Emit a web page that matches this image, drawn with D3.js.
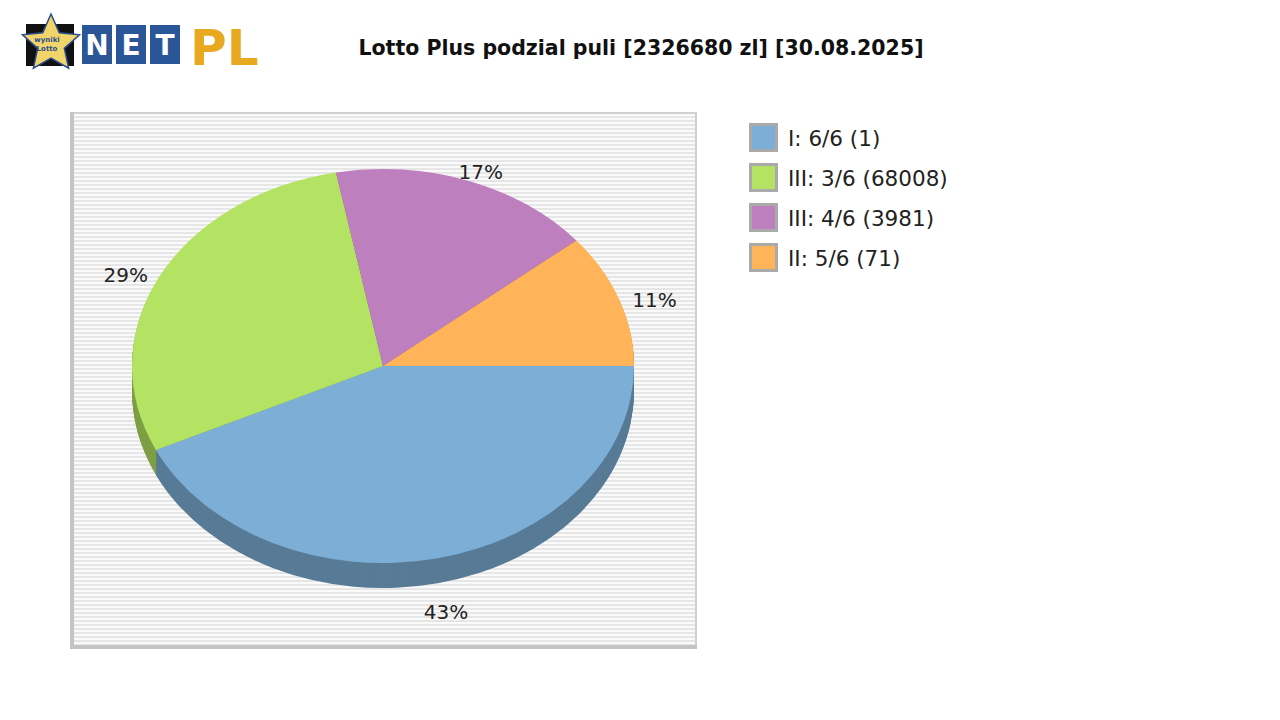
<!DOCTYPE html>
<html><head><meta charset="utf-8">
<script src="https://cdn.jsdelivr.net/npm/d3@7"></script>
<style>body{margin:0;background:#fff}</style></head>
<body><svg id="c" width="1280" height="720"></svg>
<script>
const categories = ["I: 6/6 (1)", "III: 3/6 (68008)", "III: 4/6 (3981)", "II: 5/6 (71)"];
const values = [43, 29, 17, 11];
const labels = ["43%", "29%", "17%", "11%"];
const colors = ["#7daed5", "#b4e262", "#bd7fbd", "#ffb45a"];
const sideColors = ["#587b96", "#7f9f45", "#855985", "#b37f40"];

(function(){
const svg = d3.select("#c");
const defs = svg.append("defs");
const pat = defs.append("pattern").attr("id","st").attr("width",4).attr("height",4).attr("patternUnits","userSpaceOnUse");
pat.append("rect").attr("width",4).attr("height",4).attr("fill","#fafafa");
pat.append("rect").attr("y",0).attr("width",4).attr("height",2).attr("fill","#e6e6e6");

const lg = svg.append("g");
const star = d3.range(10).map(i=>{const a=-Math.PI/2+i*Math.PI/5, r=i%2?14:30; return [51+r*Math.cos(a), 44+r*Math.sin(a)];});
lg.append("rect").attr("x",26).attr("y",24).attr("width",48).attr("height",42).attr("fill","#111");
lg.append("polygon").attr("points",star.map(p=>p.join(",")).join(" ")).attr("fill","#f2d56a").attr("stroke","#2c4e8f").attr("stroke-width",1.5);
lg.append("text").attr("x",47).attr("y",42).attr("text-anchor","middle").attr("font-size",7).attr("font-family","DejaVu Sans").attr("fill","#2c4e8f").attr("font-weight","bold").text("wyniki");
lg.append("text").attr("x",47).attr("y",51).attr("text-anchor","middle").attr("font-size",7).attr("font-family","DejaVu Sans").attr("fill","#2c4e8f").attr("font-weight","bold").text("Lotto");
["N","E","T"].forEach((t,i)=>{
  lg.append("rect").attr("x",82+i*34).attr("y",25).attr("width",30).attr("height",39).attr("fill","#2a5597");
  lg.append("text").attr("x",97+i*34).attr("y",55).attr("text-anchor","middle").attr("font-size",28).attr("font-weight","bold").attr("font-family","DejaVu Sans").attr("fill","#fff").text(t);
});
lg.append("text").attr("x",190).attr("y",65).attr("font-size",50).attr("font-weight","bold").attr("font-family","DejaVu Sans").attr("fill","#e8a920").text("PL");

svg.append("text").attr("x",641).attr("y",55).attr("text-anchor","middle").attr("font-family","DejaVu Sans").attr("font-weight","bold").attr("font-size",20.5).attr("fill","#111").text("Lotto Plus podzial puli [2326680 zl] [30.08.2025]");

svg.append("rect").attr("x",70).attr("y",112).attr("width",627).attr("height",537).attr("fill","url(#st)");
svg.append("rect").attr("x",70).attr("y",112).attr("width",627).attr("height",2).attr("fill","#d0d0d0");
svg.append("rect").attr("x",695).attr("y",112).attr("width",2).attr("height",537).attr("fill","#d0d0d0");
svg.append("rect").attr("x",70).attr("y",112).attr("width",4).attr("height",537).attr("fill","#c4c4c4");
svg.append("rect").attr("x",70).attr("y",645).attr("width",627).attr("height",4).attr("fill","#c4c4c4");

const cx=383, cy=366, rx=251, ry=197, depth=25;
const pie = d3.pie().sort(null).startAngle(Math.PI/2).endAngle(Math.PI/2+2*Math.PI).value(d=>d);
const arcs = pie(values);
const arc = d3.arc().innerRadius(0).outerRadius(rx);
const sc = ry/rx;
for(let d=depth; d>0; d--){
  const g = svg.append("g").attr("transform",`translate(${cx},${cy+d}) scale(1,${sc})`);
  g.selectAll("path").data(arcs).join("path").attr("d",arc).attr("fill",(a,i)=>sideColors[i]);
}
const topG = svg.append("g").attr("transform",`translate(${cx},${cy}) scale(1,${sc})`);
topG.selectAll("path").data(arcs).join("path").attr("d",arc).attr("fill",(a,i)=>colors[i]);

arcs.forEach((a,i)=>{
  const m=(a.startAngle+a.endAngle)/2;
  let x=cx+rx*1.15*Math.sin(m), y=cy-ry*1.08*Math.cos(m);
  if(i===0) y+=depth+7;
  svg.append("text").attr("x",x).attr("y",y+13).attr("text-anchor","middle").attr("font-family","DejaVu Sans").attr("font-size",20).attr("fill","#222").text(labels[i]);
});

categories.forEach((c,i)=>{
  const y=123+i*40;
  svg.append("rect").attr("x",749).attr("y",y).attr("width",29).attr("height",29).attr("fill","#aaa");
  svg.append("rect").attr("x",752).attr("y",y+3).attr("width",23).attr("height",23).attr("fill",colors[i]);
  svg.append("text").attr("x",788).attr("y",y+23).attr("font-family","DejaVu Sans").attr("font-size",21.5).attr("fill","#222").text(c);
});
})();
</script></body></html>
